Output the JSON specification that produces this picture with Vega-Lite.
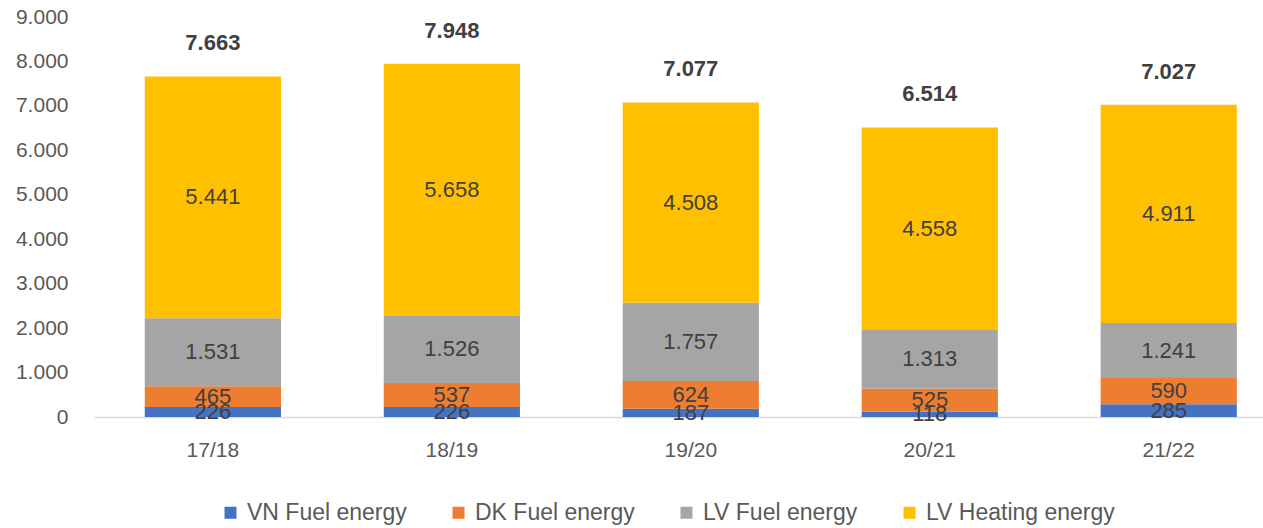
{
  "$schema": "https://vega.github.io/schema/vega-lite/v6.json",
  "width": 1169,
  "height": 400,
  "autosize": {"type": "none"},
  "padding": {"left": 94, "top": 17, "right": 0, "bottom": 111},
  "background": "white",
  "config": {
    "view": {"stroke": null},
    "font": "Liberation Sans",
    "locale": {"number": {"decimal": ",", "thousands": ".", "grouping": [3], "currency": ["", " €"]}}
  },
  "datasets": {
    "seg": [
      {"season": "17/18", "series": "VN Fuel energy", "k": 1, "value": 226},
      {"season": "17/18", "series": "DK Fuel energy", "k": 2, "value": 465},
      {"season": "17/18", "series": "LV Fuel energy", "k": 3, "value": 1531},
      {"season": "17/18", "series": "LV Heating energy", "k": 4, "value": 5441},
      {"season": "18/19", "series": "VN Fuel energy", "k": 1, "value": 226},
      {"season": "18/19", "series": "DK Fuel energy", "k": 2, "value": 537},
      {"season": "18/19", "series": "LV Fuel energy", "k": 3, "value": 1526},
      {"season": "18/19", "series": "LV Heating energy", "k": 4, "value": 5658},
      {"season": "19/20", "series": "VN Fuel energy", "k": 1, "value": 187},
      {"season": "19/20", "series": "DK Fuel energy", "k": 2, "value": 624},
      {"season": "19/20", "series": "LV Fuel energy", "k": 3, "value": 1757},
      {"season": "19/20", "series": "LV Heating energy", "k": 4, "value": 4508},
      {"season": "20/21", "series": "VN Fuel energy", "k": 1, "value": 118},
      {"season": "20/21", "series": "DK Fuel energy", "k": 2, "value": 525},
      {"season": "20/21", "series": "LV Fuel energy", "k": 3, "value": 1313},
      {"season": "20/21", "series": "LV Heating energy", "k": 4, "value": 4558},
      {"season": "21/22", "series": "VN Fuel energy", "k": 1, "value": 285},
      {"season": "21/22", "series": "DK Fuel energy", "k": 2, "value": 590},
      {"season": "21/22", "series": "LV Fuel energy", "k": 3, "value": 1241},
      {"season": "21/22", "series": "LV Heating energy", "k": 4, "value": 4911}
    ],
    "tot": [
      {"season": "17/18", "total": 7663},
      {"season": "18/19", "total": 7948},
      {"season": "19/20", "total": 7077},
      {"season": "20/21", "total": 6514},
      {"season": "21/22", "total": 7027}
    ]
  },
  "encoding": {
    "x": {
      "field": "season",
      "type": "nominal",
      "sort": null,
      "scale": {"paddingInner": 0.43, "paddingOuter": 0.161, "align": 0.66},
      "axis": {
        "title": null,
        "labelAngle": 0,
        "labelFontSize": 21,
        "labelColor": "#595959",
        "labelPadding": 22,
        "ticks": false,
        "domainColor": "#d9d9d9",
        "domainWidth": 1.5,
        "grid": false
      }
    }
  },
  "layer": [
    {
      "data": {"name": "seg"},
      "mark": {"type": "bar"},
      "encoding": {
        "y": {
          "field": "value",
          "type": "quantitative",
          "stack": "zero",
          "scale": {"domain": [0, 9000], "nice": false},
          "axis": {
            "title": null,
            "values": [0, 1000, 2000, 3000, 4000, 5000, 6000, 7000, 8000, 9000],
            "format": ",d",
            "labelFontSize": 21,
            "labelColor": "#595959",
            "labelPadding": 26,
            "ticks": false,
            "domain": false,
            "grid": false
          }
        },
        "color": {
          "field": "series",
          "type": "nominal",
          "scale": {
            "domain": ["VN Fuel energy", "DK Fuel energy", "LV Fuel energy", "LV Heating energy"],
            "range": ["#4472C4", "#ED7D31", "#A5A5A5", "#FFC000"]
          },
          "legend": {
            "title": null,
            "orient": "none",
            "legendX": 125,
            "legendY": 484,
            "direction": "horizontal",
            "symbolType": "square",
            "symbolSize": 144,
            "symbolStrokeWidth": 0,
            "labelFontSize": 23,
            "labelLimit": 400,
            "labelColor": "#595959",
            "labelOffset": 5,
            "columnPadding": 40
          }
        },
        "order": {"field": "k", "type": "quantitative"}
      }
    },
    {
      "data": {"name": "seg"},
      "mark": {"type": "text", "fontSize": 22, "color": "#404040"},
      "encoding": {
        "y": {"field": "value", "type": "quantitative", "stack": "zero", "bandPosition": 0.5},
        "detail": {"field": "series", "type": "nominal"},
        "order": {"field": "k", "type": "quantitative"},
        "text": {"field": "value", "type": "quantitative", "format": ",d"}
      }
    },
    {
      "data": {"name": "tot"},
      "mark": {"type": "text", "fontSize": 22, "fontWeight": "bold", "color": "#404040", "dy": -33},
      "encoding": {
        "y": {"field": "total", "type": "quantitative"},
        "text": {"field": "total", "type": "quantitative", "format": ",d"}
      }
    }
  ]
}
